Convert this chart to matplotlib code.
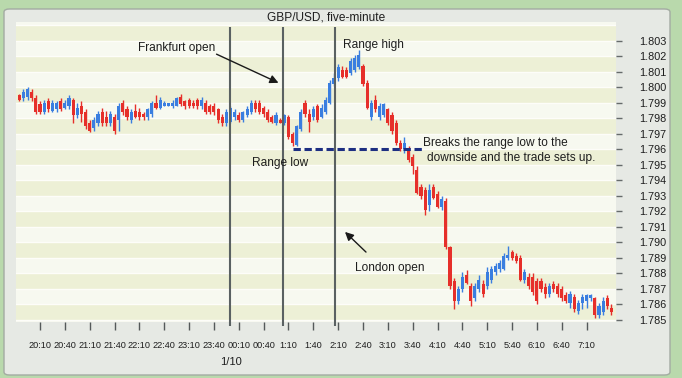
import matplotlib
matplotlib.use("Agg")
import matplotlib.pyplot as plt
from matplotlib.patches import FancyBboxPatch, FancyArrowPatch
from matplotlib import font_manager
import numpy as np

plt.rcParams['font.family'] = ['Liberation Sans', 'DejaVu Sans']

# ---------------- data (GBP/USD five-minute bars, first bar 19:45) ----------------
first_bar_minutes_after_2010 = -25
bar_minutes = 5

opens = [1.7995, 1.7993, 1.7994, 1.7997, 1.7993,
         1.7989, 1.7984, 1.7991, 1.7985, 1.7986, 1.7991, 1.7987, 1.7988, 1.7992, 1.7982,
         1.7988, 1.7984, 1.7977, 1.7974, 1.7977, 1.7984, 1.7981, 1.7977, 1.7981, 1.7979,
         1.7990, 1.7986, 1.7979, 1.7985, 1.7984, 1.7983, 1.7981, 1.7983, 1.7990, 1.7987,
         1.7988, 1.7988, 1.7988, 1.7988, 1.7994, 1.7991, 1.7992, 1.7990, 1.7992, 1.7988,
         1.7990, 1.7988, 1.7988, 1.7986, 1.7981, 1.7977, 1.7978, 1.7981, 1.7982, 1.7979,
         1.7982, 1.7984, 1.7990, 1.7990, 1.7987, 1.7984, 1.7981, 1.7977, 1.7979, 1.7977,
         1.7981, 1.7970, 1.7963, 1.7973, 1.7990, 1.7983, 1.7981, 1.7988, 1.7981, 1.7984,
         1.7990, 1.8002, 1.8006, 1.8011, 1.8011, 1.8009, 1.8011, 1.8013, 1.8014, 1.8003,
         1.7981, 1.7992, 1.7981, 1.7982, 1.7986, 1.7982, 1.7977, 1.7964, 1.7960, 1.7960,
         1.7955, 1.7947, 1.7936, 1.7934, 1.7924, 1.7936, 1.7931, 1.7923, 1.7927, 1.7897,
         1.7875, 1.7862, 1.7870, 1.7879, 1.7872, 1.7864, 1.7870, 1.7873, 1.7872, 1.7876,
         1.7881, 1.7883, 1.7883, 1.7890, 1.7894, 1.7891, 1.7890, 1.7876, 1.7878, 1.7878,
         1.7875, 1.7875, 1.7871, 1.7867, 1.7873, 1.7872, 1.7870, 1.7866, 1.7861, 1.7865,
         1.7856, 1.7861, 1.7862, 1.7864, 1.7864, 1.7853, 1.7855, 1.7864, 1.7858]
closes = [1.7992, 1.7997, 1.7999, 1.7993, 1.7984,
          1.7984, 1.7990, 1.7986, 1.7990, 1.7990, 1.7986, 1.7990, 1.7993, 1.7982, 1.7987,
          1.7983, 1.7975, 1.7972, 1.7979, 1.7983, 1.7977, 1.7977, 1.7983, 1.7972, 1.7988,
          1.7984, 1.7981, 1.7984, 1.7981, 1.7981, 1.7981, 1.7986, 1.7990, 1.7987, 1.7992,
          1.7990, 1.7990, 1.7990, 1.7993, 1.7989, 1.7988, 1.7988, 1.7988, 1.7988, 1.7992,
          1.7984, 1.7984, 1.7984, 1.7979, 1.7977, 1.7984, 1.7987, 1.7984, 1.7979, 1.7984,
          1.7986, 1.7990, 1.7986, 1.7984, 1.7983, 1.7979, 1.7978, 1.7982, 1.7977, 1.7982,
          1.7968, 1.7964, 1.7975, 1.7984, 1.7983, 1.7978, 1.7986, 1.7979, 1.7987, 1.7992,
          1.8003, 1.8006, 1.8013, 1.8007, 1.8007, 1.8017, 1.8019, 1.8021, 1.8002, 1.7987,
          1.7990, 1.7986, 1.7988, 1.7989, 1.7977, 1.7972, 1.7964, 1.7960, 1.7964, 1.7953,
          1.7949, 1.7932, 1.7930, 1.7921, 1.7934, 1.7929, 1.7923, 1.7928, 1.7897, 1.7872,
          1.7862, 1.7870, 1.7878, 1.7874, 1.7862, 1.7872, 1.7876, 1.7867, 1.7881, 1.7883,
          1.7885, 1.7887, 1.7891, 1.7892, 1.7890, 1.7888, 1.7876, 1.7881, 1.7872, 1.7868,
          1.7862, 1.7870, 1.7867, 1.7872, 1.7870, 1.7867, 1.7864, 1.7862, 1.7867, 1.7857,
          1.7861, 1.7865, 1.7866, 1.7866, 1.7853, 1.7859, 1.7862, 1.7859, 1.7855]
highs = [1.7996, 1.7999, 1.8000, 1.7999, 1.7995,
         1.7991, 1.7992, 1.7993, 1.7992, 1.7991, 1.7993, 1.7992, 1.7995, 1.7993, 1.7990,
         1.7991, 1.7986, 1.7979, 1.7981, 1.7985, 1.7987, 1.7985, 1.7985, 1.7983, 1.7990,
         1.7992, 1.7988, 1.7986, 1.7989, 1.7987, 1.7984, 1.7987, 1.7991, 1.7995, 1.7994,
         1.7991, 1.7990, 1.7992, 1.7994, 1.7996, 1.7992, 1.7993, 1.7992, 1.7993, 1.7994,
         1.7992, 1.7989, 1.7990, 1.7987, 1.7983, 1.7986, 1.7988, 1.7986, 1.7984, 1.7985,
         1.7988, 1.7992, 1.7992, 1.7992, 1.7988, 1.7986, 1.7982, 1.7984, 1.7980, 1.7983,
         1.7982, 1.7971, 1.7976, 1.7986, 1.7992, 1.7986, 1.7988, 1.7989, 1.7989, 1.7994,
         1.8005, 1.8009, 1.8015, 1.8014, 1.8013, 1.8019, 1.8021, 1.8024, 1.8015, 1.8005,
         1.7992, 1.7995, 1.7990, 1.7990, 1.7987, 1.7984, 1.7979, 1.7966, 1.7968, 1.7962,
         1.7957, 1.7949, 1.7938, 1.7936, 1.7938, 1.7938, 1.7933, 1.7930, 1.7929, 1.7898,
         1.7877, 1.7872, 1.7881, 1.7882, 1.7874, 1.7874, 1.7879, 1.7876, 1.7884, 1.7885,
         1.7887, 1.7889, 1.7893, 1.7898, 1.7895, 1.7893, 1.7892, 1.7883, 1.7880, 1.7880,
         1.7877, 1.7877, 1.7874, 1.7874, 1.7875, 1.7874, 1.7872, 1.7868, 1.7869, 1.7867,
         1.7863, 1.7867, 1.7867, 1.7867, 1.7865, 1.7861, 1.7865, 1.7866, 1.7860]
lows = [1.7991, 1.7991, 1.7992, 1.7991, 1.7983,
        1.7983, 1.7983, 1.7984, 1.7984, 1.7984, 1.7985, 1.7986, 1.7986, 1.7977, 1.7980,
        1.7978, 1.7973, 1.7971, 1.7972, 1.7975, 1.7975, 1.7975, 1.7975, 1.7970, 1.7972,
        1.7982, 1.7979, 1.7977, 1.7980, 1.7979, 1.7979, 1.7979, 1.7981, 1.7986, 1.7986,
        1.7988, 1.7988, 1.7987, 1.7988, 1.7988, 1.7986, 1.7987, 1.7987, 1.7986, 1.7986,
        1.7983, 1.7983, 1.7982, 1.7977, 1.7975, 1.7975, 1.7977, 1.7979, 1.7978, 1.7978,
        1.7981, 1.7983, 1.7984, 1.7983, 1.7981, 1.7978, 1.7977, 1.7976, 1.7977, 1.7976,
        1.7967, 1.7962, 1.7962, 1.7972, 1.7981, 1.7971, 1.7979, 1.7978, 1.7980, 1.7983,
        1.7989, 1.8001, 1.8004, 1.8006, 1.8006, 1.8008, 1.8010, 1.8012, 1.8001, 1.7986,
        1.7979, 1.7984, 1.7979, 1.7981, 1.7976, 1.7970, 1.7963, 1.7959, 1.7958, 1.7952,
        1.7944, 1.7931, 1.7928, 1.7918, 1.7920, 1.7928, 1.7922, 1.7921, 1.7896, 1.7870,
        1.7857, 1.7860, 1.7868, 1.7873, 1.7859, 1.7862, 1.7868, 1.7865, 1.7870, 1.7874,
        1.7879, 1.7881, 1.7882, 1.7889, 1.7889, 1.7887, 1.7875, 1.7874, 1.7870, 1.7866,
        1.7860, 1.7868, 1.7864, 1.7865, 1.7868, 1.7865, 1.7862, 1.7861, 1.7858, 1.7855,
        1.7854, 1.7857, 1.7858, 1.7862, 1.7851, 1.7851, 1.7853, 1.7857, 1.7853]

x_tick_labels = ["20:10", "20:40", "21:10", "21:40", "22:10", "22:40", "23:10", "23:40",
                 "00:10", "00:40", "1:10", "1:40", "2:10", "2:40", "3:10", "3:40",
                 "4:10", "4:40", "5:10", "5:40", "6:10", "6:40", "7:10"]
x_tick_minutes = [30 * k for k in range(len(x_tick_labels))]
y_ticks = [1.785, 1.786, 1.787, 1.788, 1.789, 1.790, 1.791, 1.792, 1.793, 1.794,
           1.795, 1.796, 1.797, 1.798, 1.799, 1.800, 1.801, 1.802, 1.803]
session_lines_minutes = [229, 293, 356]   # 00:00 line, Frankfurt open, London open
range_low = 1.7960
breakout_minutes = (305, 461)

# ---------------- figure ----------------
W, H = 682, 378
fig = plt.figure(figsize=(W / 100, H / 100), dpi=100, facecolor='#b9d9ac')
panel = FancyBboxPatch((4 / W, 3 / H), 666 / W, 366 / H,
                       boxstyle='round,pad=0,rounding_size=0.008',
                       transform=fig.transFigure, fc='#e6e9e4',
                       ec='#a3aba2', lw=1.0, zorder=-10)
fig.patches.append(panel)

ax = fig.add_axes([16 / W, 1 - 322 / H, 600 / W, 300 / H])
ax.set_zorder(1)
ax.set_facecolor('#f6f8ee')

n = len(opens)
xs = (first_bar_minutes_after_2010 + bar_minutes * np.arange(n)) / bar_minutes

# stripes
for k in range(1784, 1805):
    lo = k / 1000
    col = '#edf0d6' if k % 2 == 1 else '#f7f9f0'
    ax.axhspan(lo, lo + 0.001, color=col, lw=0, zorder=0)
    ax.axhline(lo, color='#fdfdf9', lw=1.0, zorder=0.5)

red, blue = '#e62f2a', '#3a7ee0'
for x, o, h, l, c in zip(xs, opens, highs, lows, closes):
    col = blue if c >= o else red
    ax.vlines(x, l, h, color=col, lw=1.0, zorder=2)
    body = max(abs(c - o), 0.00004)
    ax.bar(x, body, bottom=min(o, c), width=0.75, color=col, lw=0, zorder=3)

for m in session_lines_minutes:
    ax.vlines(m / bar_minutes, 1.7846, 1.8039, color='#5a6162', lw=1.5,
              zorder=4, clip_on=False)

ax.hlines(range_low, breakout_minutes[0] / bar_minutes, breakout_minutes[1] / bar_minutes,
          color='#1d2f82', lw=2.2, linestyles=(0, (2.4, 1.2)), zorder=5)

ax.set_xlim(-5.8, 139.1)
ax.set_ylim(1.78487, 1.80422)
for s in ax.spines.values():
    s.set_visible(False)

names = {f.name for f in font_manager.fontManager.ttflist}
narrow = ['Liberation Sans Narrow'] if 'Liberation Sans Narrow' in names else []

ax.set_xticks([m / bar_minutes for m in x_tick_minutes])
ax.set_xticklabels(x_tick_labels, family=narrow + ['Liberation Sans', 'DejaVu Sans'],
                   fontsize=7.4 if narrow else 6.6)
ax.tick_params(axis='x', length=6, width=1, color='#555a5a', pad=7.5,
               labelcolor='#1e1e1e')
ax.yaxis.tick_right()
ax.set_yticks(y_ticks)
ax.set_yticklabels([f"{v:.3f}" for v in y_ticks])
ax.tick_params(axis='y', length=4, width=1, color='#666b6b', pad=13,
               labelsize=7.8, labelcolor='#1e1e1e')

def fx(px):
    return px / W

def fy(py):
    return 1 - py / H

fig.text(fx(326), fy(18), "GBP/USD, five-minute", ha='center', va='center',
         fontsize=8.6, color='#1e1e1e')
fig.text(fx(231), fy(362), "1/10", ha='center', va='center', fontsize=8, color='#1e1e1e')

fig.text(fx(138), fy(48), "Frankfurt open", ha='left', va='center', fontsize=8.6, color='#1e1e1e')
fig.text(fx(343), fy(45), "Range high", ha='left', va='center', fontsize=8.6, color='#1e1e1e')
fig.text(fx(252), fy(163), "Range low", ha='left', va='center', fontsize=8.6, color='#1e1e1e')
fig.text(fx(423), fy(143), "Breaks the range low to the", ha='left', va='center',
         fontsize=8.6, color='#1e1e1e')
fig.text(fx(427), fy(158), "downside and the trade sets up.", ha='left', va='center',
         fontsize=8.6, color='#1e1e1e')
fig.text(fx(355), fy(268), "London open", ha='left', va='center', fontsize=8.6, color='#1e1e1e')

fig.add_artist(FancyArrowPatch(
    (fx(214), fy(53)), (fx(281), fy(84)), transform=fig.transFigure,
    arrowstyle='-|>,head_length=5,head_width=2.5', color='#1a1a1a', lw=1.0, zorder=5))
fig.add_artist(FancyArrowPatch(
    (fx(368), fy(254)), (fx(343), fy(230)), transform=fig.transFigure,
    arrowstyle='-|>,head_length=5,head_width=2.5', color='#1a1a1a', lw=1.0, zorder=5))

fig.savefig('out.png', dpi=100, facecolor=fig.get_facecolor())
